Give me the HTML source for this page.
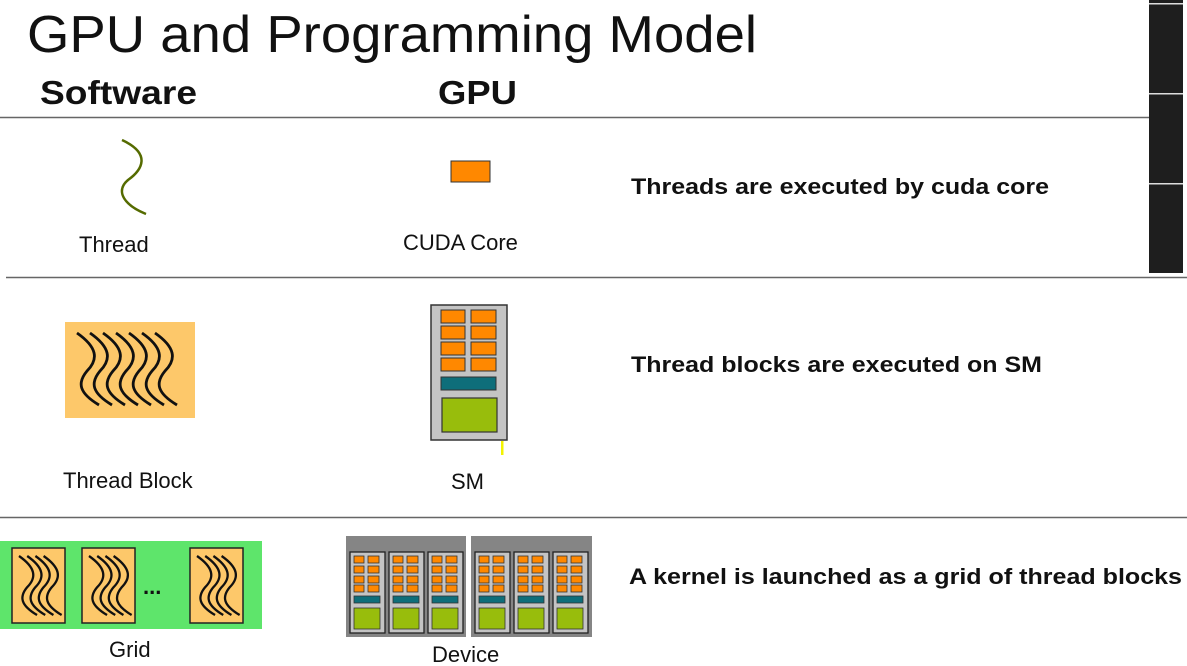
<!DOCTYPE html>
<html><head><meta charset="utf-8"><style>
html,body{margin:0;padding:0;background:#fff;}
svg{display:block;}
text{font-family:"Liberation Sans",sans-serif;}
</style></head><body>
<svg width="1187" height="666" viewBox="0 0 1187 666" xmlns="http://www.w3.org/2000/svg">
<defs>
  <path id="wv" d="M0,0 C20,14 22,26 10,38 C0,50 2,60 22,72" fill="none" stroke="#111" stroke-width="2.8"/>
  <g id="blk">
    <rect x="0" y="0" width="53" height="75" fill="#fdc86a" stroke="#222" stroke-width="1.5"/>
    <g transform="translate(7,8) scale(0.82)">
      <use href="#wv" x="0"/><use href="#wv" x="10"/><use href="#wv" x="20"/><use href="#wv" x="30"/>
    </g>
  </g>
  <g id="dsm">
    <rect x="0" y="0" width="35" height="81" fill="#c4c4c4" stroke="#222" stroke-width="1.3"/>
    <g fill="#ff8800" stroke="#333" stroke-width="0.8">
      <rect x="4" y="4" width="10" height="7"/><rect x="18" y="4" width="11" height="7"/>
      <rect x="4" y="14" width="10" height="7"/><rect x="18" y="14" width="11" height="7"/>
      <rect x="4" y="24" width="10" height="7"/><rect x="18" y="24" width="11" height="7"/>
      <rect x="4" y="33" width="10" height="7"/><rect x="18" y="33" width="11" height="7"/>
    </g>
    <rect x="4" y="44" width="26" height="7" fill="#0e6e7a" stroke="#333" stroke-width="0.8"/>
    <rect x="4" y="56" width="26" height="21" fill="#98bd0c" stroke="#333" stroke-width="0.8"/>
  </g>
</defs>

<rect x="1149" y="0" width="34" height="273" fill="#1e1e1e"/>
<rect x="1149" y="3" width="34" height="1.5" fill="#ddd"/>
<rect x="1149" y="93" width="34" height="1.5" fill="#ddd"/>
<rect x="1149" y="183" width="34" height="1.5" fill="#ddd"/>

<text x="27" y="52" font-size="52" textLength="730" lengthAdjust="spacingAndGlyphs" fill="#111">GPU and Programming Model</text>
<text x="40" y="104" font-size="33" font-weight="bold" textLength="157" lengthAdjust="spacingAndGlyphs" fill="#111">Software</text>
<text x="438" y="104" font-size="33" font-weight="bold" textLength="79" lengthAdjust="spacingAndGlyphs" fill="#111">GPU</text>

<line x1="0" y1="117.5" x2="1149" y2="117.5" stroke="#666" stroke-width="1.5"/>
<line x1="6" y1="277.5" x2="1187" y2="277.5" stroke="#666" stroke-width="1.5"/>
<line x1="0" y1="517.5" x2="1187" y2="517.5" stroke="#666" stroke-width="1.5"/>

<path d="M122,140 c30,14 20,30 6,40 c-14,12 -2,26 18,34" fill="none" stroke="#556b00" stroke-width="2.5"/>
<text x="79" y="252" font-size="22" fill="#111">Thread</text>
<rect x="451" y="161" width="39" height="21" fill="#ff8800" stroke="#333" stroke-width="1"/>
<text x="403" y="250" font-size="22" fill="#111">CUDA Core</text>
<text x="631" y="194" font-size="22" font-weight="bold" textLength="418" lengthAdjust="spacingAndGlyphs" fill="#111">Threads are executed by cuda core</text>

<rect x="65" y="322" width="130" height="96" fill="#fdc86a"/>
<g transform="translate(77,333) scale(1,1)">
  <use href="#wv" x="0"/><use href="#wv" x="13"/><use href="#wv" x="26"/><use href="#wv" x="39"/><use href="#wv" x="52"/><use href="#wv" x="65"/><use href="#wv" x="78"/>
</g>
<text x="63" y="488" font-size="22" fill="#111">Thread Block</text>

<rect x="431" y="305" width="76" height="135" fill="#c4c4c4" stroke="#333" stroke-width="1.5"/>
<g fill="#ff8800" stroke="#333" stroke-width="1">
  <rect x="441" y="310" width="24" height="13"/><rect x="471" y="310" width="25" height="13"/>
  <rect x="441" y="326" width="24" height="13"/><rect x="471" y="326" width="25" height="13"/>
  <rect x="441" y="342" width="24" height="13"/><rect x="471" y="342" width="25" height="13"/>
  <rect x="441" y="358" width="24" height="13"/><rect x="471" y="358" width="25" height="13"/>
</g>
<rect x="441" y="377" width="55" height="13" fill="#0e6e7a" stroke="#333" stroke-width="1"/>
<rect x="442" y="398" width="55" height="34" fill="#98bd0c" stroke="#333" stroke-width="1.2"/>
<rect x="501" y="441" width="2.5" height="14" fill="#f3f300"/>
<text x="451" y="489" font-size="22" fill="#111">SM</text>
<text x="631" y="372" font-size="22" font-weight="bold" textLength="411" lengthAdjust="spacingAndGlyphs" fill="#111">Thread blocks are executed on SM</text>

<rect x="0" y="541" width="262" height="88" fill="#5ee56b"/>
<use href="#blk" x="12" y="548"/>
<use href="#blk" x="82" y="548"/>
<use href="#blk" x="190" y="548"/>
<text x="143" y="594" font-size="22" font-weight="bold" fill="#111">...</text>
<text x="109" y="657" font-size="22" fill="#111">Grid</text>

<rect x="346" y="536" width="120" height="101" fill="#858585"/>
<rect x="471" y="536" width="121" height="101" fill="#858585"/>
<use href="#dsm" x="350" y="552"/><use href="#dsm" x="389" y="552"/><use href="#dsm" x="428" y="552"/>
<use href="#dsm" x="475" y="552"/><use href="#dsm" x="514" y="552"/><use href="#dsm" x="553" y="552"/>
<text x="432" y="662" font-size="22" fill="#111">Device</text>
<text x="629" y="584" font-size="22" font-weight="bold" textLength="553" lengthAdjust="spacingAndGlyphs" fill="#111">A kernel is launched as a grid of thread blocks</text>
</svg>
</body></html>
